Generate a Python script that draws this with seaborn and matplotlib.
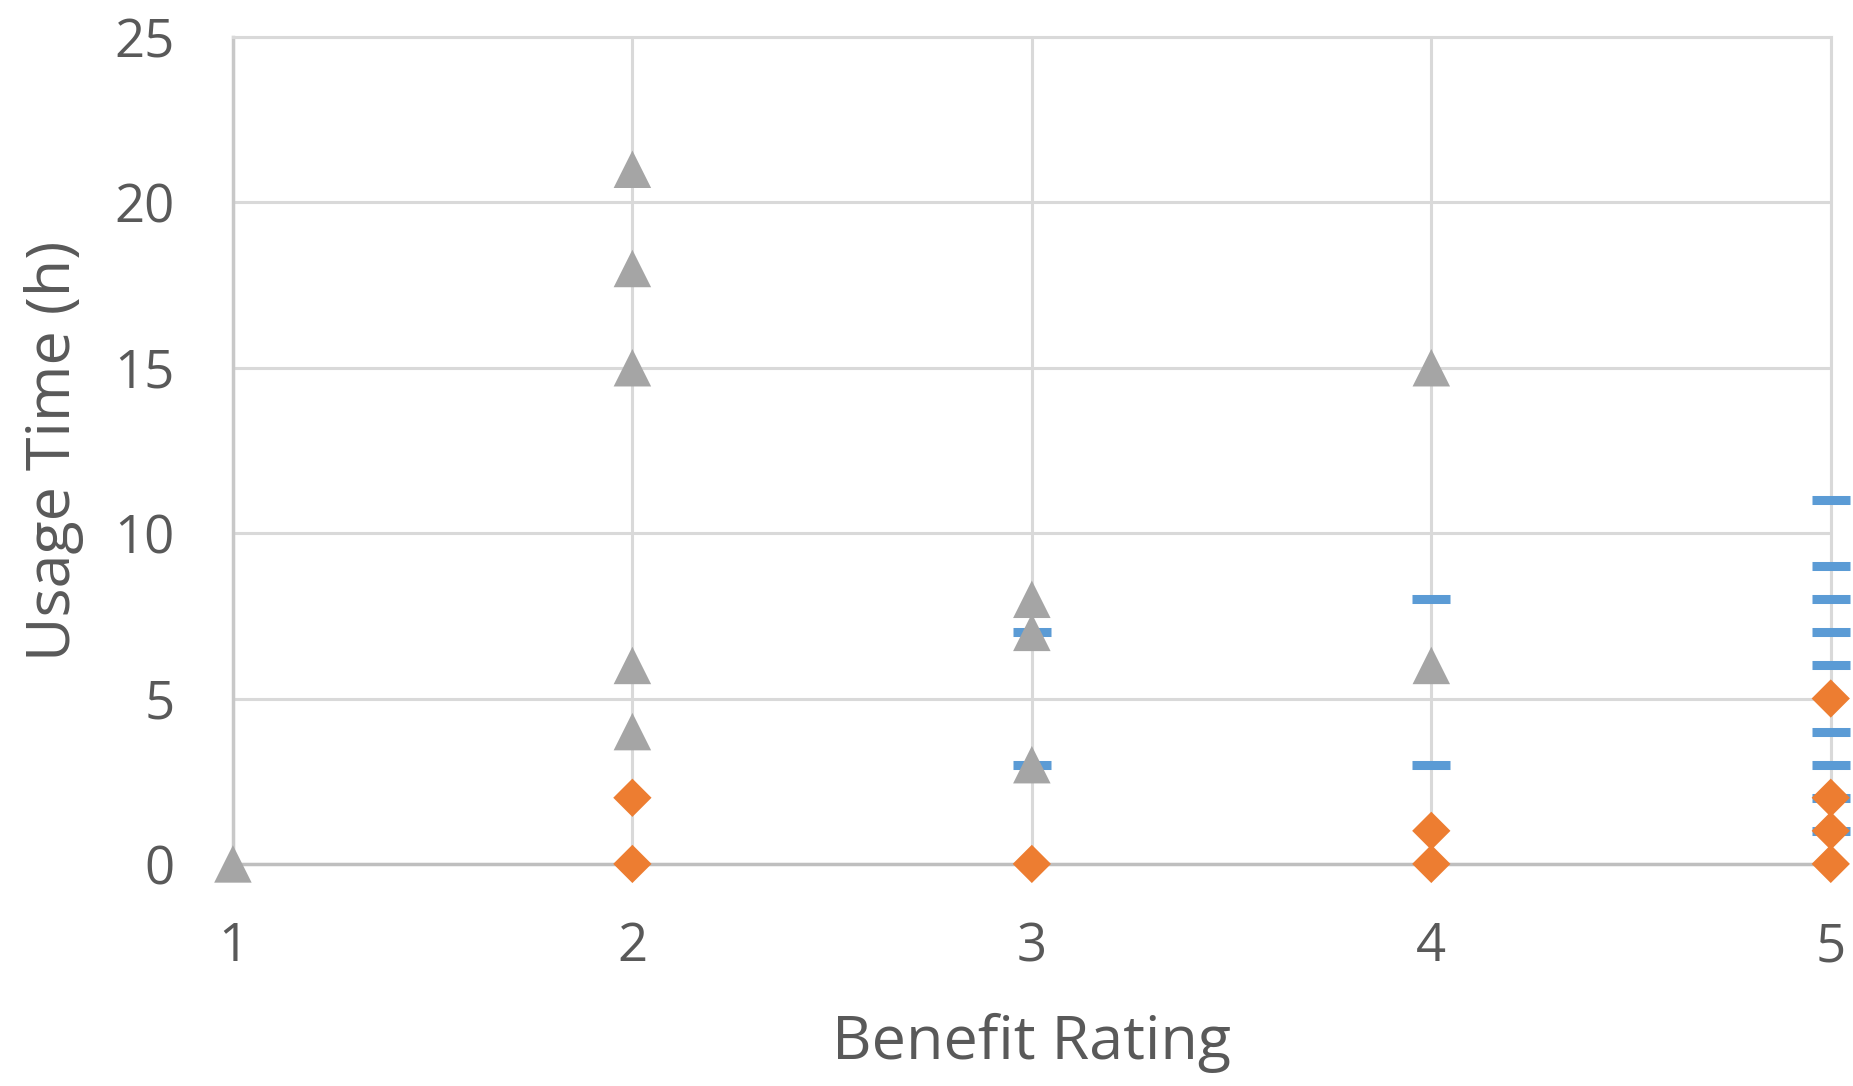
import seaborn as sns
import matplotlib.pyplot as plt
import pandas as pd

# three series (x = benefit rating, y = usage time in hours)
blue_x = [3, 3, 4, 4, 5, 5, 5, 5, 5, 5, 5, 5, 5]
blue_y = [7, 3, 8, 3, 11, 9, 8, 7, 6, 4, 3, 2, 1]

orange_x = [2, 2, 3, 4, 4, 5, 5, 5, 5]
orange_y = [2, 0, 0, 1, 0, 5, 2, 1, 0]

gray_x = [1, 2, 2, 2, 2, 2, 3, 3, 3, 4, 4]
gray_y = [0, 21, 18, 15, 6, 4, 8, 7, 3, 15, 6]

x_ticks = [1, 2, 3, 4, 5]
y_ticks = [0, 5, 10, 15, 20, 25]

blue_df = pd.DataFrame({'rating': blue_x, 'hours': blue_y})
orange_df = pd.DataFrame({'rating': orange_x, 'hours': orange_y})
gray_df = pd.DataFrame({'rating': gray_x, 'hours': gray_y})

sns.set_style('white')
plt.rcParams['font.family'] = ['Open Sans', 'DejaVu Sans']

text_color = '#595959'

fig = plt.figure(figsize=(18.53, 10.86), dpi=100)
ax = fig.add_axes([0.1257, 0.2045, 0.988 - 0.1257, 0.966 - 0.2045])

# blue dashes first, then orange diamonds, then gray triangles on top
sns.scatterplot(data=blue_df, x='rating', y='hours', marker='_', s=27**2,
                color='#5B9BD5', linewidth=6.5, ax=ax, clip_on=False, zorder=3)
sns.scatterplot(data=orange_df, x='rating', y='hours', marker='D', s=19.5**2,
                color='#ED7D31', edgecolor='none', ax=ax, clip_on=False, zorder=4)
sns.scatterplot(data=gray_df, x='rating', y='hours', marker='^', s=27**2,
                color='#A5A5A5', edgecolor='none', ax=ax, clip_on=False, zorder=5)

ax.set_xlim(1, 5)
ax.set_ylim(0, 25)
ax.set_xticks(x_ticks)
ax.set_yticks(y_ticks)

ax.grid(True, color='#D9D9D9', linewidth=2.2)
ax.set_axisbelow(True)
for side in ['top', 'right']:
    ax.spines[side].set_color('#D9D9D9')
    ax.spines[side].set_linewidth(2.2)
ax.spines['left'].set_color('#C8C8C8')
ax.spines['left'].set_linewidth(2.5)
ax.spines['bottom'].set_color('#BFBFBF')
ax.spines['bottom'].set_linewidth(2.5)

ax.tick_params(axis='both', length=0, labelsize=38, labelcolor=text_color)
ax.tick_params(axis='y', pad=42)
ax.tick_params(axis='x', pad=41)

ax.set_xlabel('Benefit Rating', fontsize=44, color=text_color, labelpad=28)
ax.set_ylabel('Usage Time (h)', fontsize=44, color=text_color, labelpad=22)

plt.savefig('out.png', dpi=100)
